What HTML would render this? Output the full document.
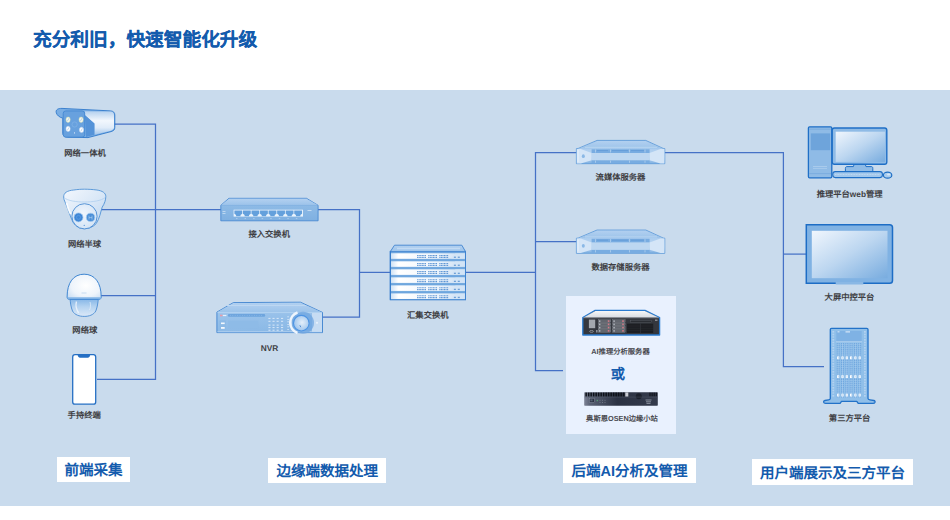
<!DOCTYPE html>
<html lang="zh-CN">
<head>
<meta charset="utf-8">
<style>
*{margin:0;padding:0;box-sizing:border-box}
html,body{width:950px;height:520px;overflow:hidden;background:#fff;font-family:"Liberation Sans",sans-serif;text-rendering:geometricPrecision}
#title{position:absolute;left:33px;top:28px;font-size:18.7px;font-weight:bold;color:#135bad;-webkit-text-stroke:0.15px #135bad;white-space:nowrap;line-height:24px}
#panel{position:absolute;left:0;top:89.5px;width:950px;height:416.5px;background:#c9dbed}
.lb{position:absolute;width:120px;text-align:center;font-size:8.3px;font-weight:bold;color:#3f3f44;white-space:nowrap;line-height:10px}
.sm{font-size:7.3px;color:#4a4a50}
.bx{position:absolute;background:#fff;color:#135bad;font-weight:bold;font-size:14.5px;line-height:29px;text-align:center;white-space:nowrap}
.ai{position:absolute;left:566px;top:295.5px;width:110px;height:138px;background:#e9f1fe}
#or{position:absolute;left:603px;top:364.5px;width:30px;text-align:center;font-size:14.3px;font-weight:bold;color:#135bad;line-height:20px}
svg{position:absolute;left:0;top:0}
</style>
</head>
<body>
<div id="title">充分利旧，快速智能化升级</div>
<div id="panel"></div>
<div class="ai"></div>
<svg width="950" height="520">
<defs>
<linearGradient id="gBR" x1="0" y1="0" x2="0" y2="1"><stop offset="0" stop-color="#b5d1ef"/><stop offset="0.4" stop-color="#f2f7fd"/><stop offset="0.7" stop-color="#e0ecf9"/><stop offset="1" stop-color="#a3c6eb"/></linearGradient>
<linearGradient id="gFace" x1="0" y1="0" x2="0" y2="1"><stop offset="0" stop-color="#609cdc"/><stop offset="1" stop-color="#4c8dd5"/></linearGradient>
<linearGradient id="gShell" x1="0" y1="0" x2="1" y2="1"><stop offset="0" stop-color="#f3f7fd"/><stop offset="0.5" stop-color="#dae8f7"/><stop offset="1" stop-color="#b9d3ef"/></linearGradient>
<radialGradient id="gBall" cx="0.45" cy="0.4" r="0.75"><stop offset="0" stop-color="#f1f6fd"/><stop offset="1" stop-color="#cde0f4"/></radialGradient>
<radialGradient id="gPtzT" cx="0.55" cy="0.45" r="0.7"><stop offset="0" stop-color="#ffffff"/><stop offset="0.6" stop-color="#eef4fb"/><stop offset="1" stop-color="#c8ddf3"/></radialGradient>
<linearGradient id="gPtzB" x1="0" y1="0" x2="0" y2="1"><stop offset="0" stop-color="#82b4e6"/><stop offset="0.45" stop-color="#b3d2f0"/><stop offset="1" stop-color="#dce9f8"/></linearGradient>
<linearGradient id="gSwF" x1="0" y1="0" x2="0" y2="1"><stop offset="0" stop-color="#94bfe8"/><stop offset="1" stop-color="#7fb0e1"/></linearGradient>
<linearGradient id="gTop" x1="0" y1="0" x2="0" y2="1"><stop offset="0" stop-color="#b2d0f0"/><stop offset="1" stop-color="#9cc3ea"/></linearGradient>
<linearGradient id="gNvr" x1="0" y1="0" x2="0.3" y2="1"><stop offset="0" stop-color="#a4c9ee"/><stop offset="1" stop-color="#8bb9e6"/></linearGradient>
<linearGradient id="gUnit" x1="0" y1="0" x2="1" y2="0"><stop offset="0" stop-color="#cfe2f5"/><stop offset="0.1" stop-color="#ffffff"/><stop offset="0.6" stop-color="#eef5fc"/><stop offset="1" stop-color="#c9def3"/></linearGradient>
<linearGradient id="gSrvF" x1="0" y1="0" x2="0" y2="1"><stop offset="0" stop-color="#7fb0e2"/><stop offset="0.3" stop-color="#a9cbee"/><stop offset="0.7" stop-color="#b9d5f1"/><stop offset="1" stop-color="#7fb0e2"/></linearGradient>
<linearGradient id="gScr" x1="0" y1="0" x2="1" y2="1"><stop offset="0" stop-color="#f0f6fd"/><stop offset="0.5" stop-color="#bcd6f0"/><stop offset="1" stop-color="#78acdf"/></linearGradient>
<linearGradient id="gHpTop" x1="0" y1="0" x2="0" y2="1"><stop offset="0" stop-color="#f6f7f8"/><stop offset="1" stop-color="#d8dce2"/></linearGradient>
<linearGradient id="gOsen" x1="0" y1="0" x2="1" y2="0"><stop offset="0" stop-color="#7d8395"/><stop offset="0.08" stop-color="#5a6174"/><stop offset="0.45" stop-color="#2b3243"/><stop offset="1" stop-color="#343b4c"/></linearGradient>
<radialGradient id="gKnob" cx="0.55" cy="0.45" r="0.7"><stop offset="0" stop-color="#e4effa"/><stop offset="0.7" stop-color="#a6c9ee"/><stop offset="1" stop-color="#7fb2e6"/></radialGradient>
</defs>
<g stroke="#4571c6" stroke-width="1.25" fill="none">
<path d="M113 124H155.5V379.3H97"/>
<path d="M101 295.6H155.5"/>
<path d="M101 209.7H222"/>
<path d="M317 209.7H359.5V317.2H321"/>
<path d="M359.5 272.4H391"/>
<path d="M466 272.4H535.5"/>
<path d="M577 152.5H535.5V370.6H563"/>
<path d="M535.5 241.6H577"/>
<path d="M664 152.5H783.4V366.6H824"/>
<path d="M783.4 254.1H806"/>
</g>
<g>
<path d="M56.3,112.8 C55.4,109.8 57.8,108.3 62,108.4 L110.6,110.9 C113.4,111.1 114.8,112.6 114.8,115 L114.8,127.4 C114.8,129.7 113.6,130.8 111,131.6 L88,137.6 L67.5,137.2 C64.4,137 62.8,135.6 62.8,133 L62.8,118.2 C59.2,117.2 57,115.2 56.3,112.8Z" fill="#7aaee4" stroke="#2f78cb" stroke-width="0.9"/>
<path d="M80.5,111.3 L110.4,111.6 C112.8,111.8 114,113.1 114,115.1 L114,127.3 C114,129.1 113,129.9 110.8,130.7 L94.4,134.7 L94.4,123.4 Z" fill="url(#gBR)"/>
<path d="M80.5,111.3 L94.4,123.4 L94.4,134.7 L86,137 L84.7,111.5Z" fill="#5593d8"/>
<rect x="63.2" y="110.9" width="21.5" height="26.3" rx="2.6" fill="#68a1de" stroke="#3f84cf" stroke-width="0.8"/>
<g fill="#f6f8ef" stroke="#d2dca8" stroke-width="0.5">
<ellipse cx="68.1" cy="119.7" rx="2.1" ry="2.7"/><ellipse cx="81.1" cy="119.7" rx="2.1" ry="2.7"/>
</g>
<g fill="#ffffff" stroke="#c8daf0" stroke-width="0.5">
<ellipse cx="68.1" cy="128.9" rx="2.1" ry="2.7"/><ellipse cx="81.5" cy="129.9" rx="2.1" ry="2.7"/>
</g>
<g fill="none" stroke="#7ea9d8" stroke-width="0.5">
<path d="M67.4,121.2 L68.9,118.3"/><path d="M80.4,121.2 L81.9,118.3"/><path d="M67.4,130.4 L68.9,127.5"/><path d="M80.8,131.4 L82.3,128.5"/>
</g>
<circle cx="74.6" cy="124.5" r="2.6" fill="none" stroke="#8ab8e8" stroke-width="0.5"/>
<rect x="74.2" y="132.2" width="0.8" height="1.4" fill="#dbe9f8"/>
</g>
<g>
<path d="M63.7,197 C63.5,193 67,190.6 73.8,190 C78,189.4 81,189.2 84.5,189.2 C88,189.2 92,189.4 96.9,190 C102.5,190.8 105.8,193 105.8,196.5 C105.8,200 104.6,203.5 102.2,207.2 C100.6,212 99.6,218.5 96.2,223.6 C93,227 89,228.7 84.5,228.7 C80,228.7 76.3,227 73,222.2 C70.4,217 68.6,210.5 65.3,202.6 C64.3,200.5 63.7,199 63.7,197Z" fill="url(#gShell)" stroke="#4f92d6" stroke-width="0.9"/>
<path d="M64.2,197.8 C68,200.8 76,202 84.5,202 C93,202 101,200.8 105.3,197.5" fill="none" stroke="#a9cbee" stroke-width="0.7"/>
<path d="M66.5,203 C67.5,207 69,211 70.5,214" stroke="#ffffff" stroke-width="1.6" fill="none" opacity="0.9"/>
<circle cx="84.5" cy="216.3" r="12.6" fill="url(#gBall)" stroke="#4a8bd3" stroke-width="0.9"/>
<circle cx="78.5" cy="217.4" r="4.5" fill="#3f87d7" stroke="#a3c8ee" stroke-width="0.7"/>
<circle cx="78.5" cy="217.4" r="2" fill="none" stroke="#6aa6e6" stroke-width="0.5"/>
<rect x="86.4" y="213.2" width="8.3" height="8.3" rx="4.1" fill="#4a8fd8" stroke="#a3c8ee" stroke-width="0.7"/>
<path d="M89,215.6 v4 M92,215.6 v4 M89,217.6 h3" stroke="#b4d3f2" stroke-width="0.6" fill="none"/>
<circle cx="84.2" cy="225.3" r="0.6" fill="#3f86d6"/>
</g>
<g>
<path d="M70,298.5 L98.4,298.5 C97.9,303 97.4,307 95.8,311 C93.5,315 89,316.4 84.2,316.4 C79.4,316.4 74.8,315 72.5,311 C70.9,307 70.4,303 70,298.5Z" fill="url(#gPtzB)" stroke="#4a8bd3" stroke-width="0.9"/>
<path d="M76.5,301.5 C75.5,305 76.3,309.5 78.6,312.8" stroke="#eef5fc" stroke-width="1.4" fill="none" opacity="0.85"/>
<path d="M90,302 C91,305 90.5,308 89.5,310" stroke="#e3eefa" stroke-width="1" fill="none" opacity="0.7"/>
<path d="M67.1,297 C67.1,282.5 73.5,274.2 84.1,274.2 C94.7,274.2 101.2,282.5 101.2,297 C101.2,298.6 100.4,299.4 98.8,299.4 L69.5,299.4 C67.9,299.4 67.1,298.6 67.1,297Z" fill="url(#gPtzT)" stroke="#3f86d2" stroke-width="1"/>
<rect x="67.6" y="297.3" width="33.1" height="1.7" fill="#7fb2e6"/>
<rect x="81.5" y="292.6" width="5" height="0.8" fill="#bcd4ee"/>
</g>
<g>
<rect x="72.7" y="354.7" width="23" height="49.5" rx="2.3" fill="#fff" stroke="#256fc4" stroke-width="1.3"/>
<path d="M77.6,355 L90.2,355 C89.8,357 89,357.7 87.8,357.7 L80,357.7 C78.8,357.7 78,357 77.6,355Z" fill="#256fc4"/>
</g>
<g>
<path d="M220.8,205.3 L228.9,198.3 L306.5,198.3 L318.1,205.3 L318.1,220.8 L220.8,220.8 Z" fill="url(#gSwF)" stroke="#3f83cf" stroke-width="0.8" stroke-linejoin="round"/>
<path d="M221.3,205.1 L229.1,198.8 L306.3,198.8 L317.6,205.1 Z" fill="url(#gTop)"/>
<path d="M221.2,205.4 H317.7" stroke="#7eafe0" stroke-width="0.6"/>
<rect x="233.6" y="209.7" width="69.4" height="6.9" fill="#eaf3fc"/>
<g fill="#64a0dc"><path d="M234.40,210.4 h7.8 v3.3 l-1.7,1.4 v1.2 h-4.4 v-1.2 l-1.7,-1.4Z"/><path d="M242.95,210.4 h7.8 v3.3 l-1.7,1.4 v1.2 h-4.4 v-1.2 l-1.7,-1.4Z"/><path d="M251.50,210.4 h7.8 v3.3 l-1.7,1.4 v1.2 h-4.4 v-1.2 l-1.7,-1.4Z"/><path d="M260.05,210.4 h7.8 v3.3 l-1.7,1.4 v1.2 h-4.4 v-1.2 l-1.7,-1.4Z"/><path d="M268.60,210.4 h7.8 v3.3 l-1.7,1.4 v1.2 h-4.4 v-1.2 l-1.7,-1.4Z"/><path d="M277.15,210.4 h7.8 v3.3 l-1.7,1.4 v1.2 h-4.4 v-1.2 l-1.7,-1.4Z"/><path d="M285.70,210.4 h7.8 v3.3 l-1.7,1.4 v1.2 h-4.4 v-1.2 l-1.7,-1.4Z"/><path d="M294.25,210.4 h7.8 v3.3 l-1.7,1.4 v1.2 h-4.4 v-1.2 l-1.7,-1.4Z"/></g>
<rect x="307.5" y="210" width="4" height="0.8" fill="#d4e5f6"/>
<rect x="222.5" y="211" width="3" height="0.7" fill="#d4e5f6"/><rect x="222.5" y="213" width="3" height="0.7" fill="#d4e5f6"/>
<path d="M236,218.6 H300" stroke="#d4e5f6" stroke-width="0.5" stroke-dasharray="1.5 7.05"/>
</g>
<g>
<path d="M216.9,312.1 L233.4,302.6 L300.5,302.2 L322.5,312.4 L322.5,332.6 L216.9,332.6 Z" fill="url(#gNvr)" stroke="#3f83cf" stroke-width="0.9" stroke-linejoin="round"/>
<path d="M217.5,311.9 L233.6,303.1 L300.3,302.7 L321.8,312.2 Z" fill="url(#gTop)"/>
<path d="M226,305.5 H306" stroke="#bdd7f2" stroke-width="1.2"/>
<path d="M217.4,312.6 H322" stroke="#b9d5f1" stroke-width="0.8"/>
<path d="M217.4,331.8 H322" stroke="#b4d2f0" stroke-width="1"/>
<rect x="220" y="314.7" width="2.6" height="1.6" fill="#e89aa8"/>
<rect x="222.8" y="314.9" width="3.6" height="1.2" fill="#e6f0fb"/>
<rect x="227.9" y="314" width="37.3" height="2.8" rx="1.2" fill="#6ea5de"/>
<path d="M230,315.4 H263" stroke="#a9ccef" stroke-width="0.5" stroke-dasharray="0.8 1.6"/>
<rect x="219.4" y="320.3" width="6.6" height="10.1" rx="0.8" fill="#8dbae6"/>
<rect x="228.2" y="320.6" width="30" height="7.6" fill="#8ebbe7"/>
<rect x="221" y="322.5" width="3.7" height="1.6" fill="#f4f8fd"/>
<rect x="221" y="327" width="3.7" height="1.8" fill="#f4f8fd"/>
<rect x="268.4" y="317.9" width="2.1" height="1" fill="#d9e8f8"/><rect x="272.5" y="317.9" width="2.1" height="1" fill="#d9e8f8"/><rect x="276.6" y="317.9" width="2.1" height="1" fill="#d9e8f8"/><rect x="281.0" y="317.9" width="2.1" height="1" fill="#d9e8f8"/><rect x="268.4" y="320.8" width="2.1" height="1" fill="#d9e8f8"/><rect x="272.5" y="320.8" width="2.1" height="1" fill="#d9e8f8"/><rect x="276.6" y="320.8" width="2.1" height="1" fill="#d9e8f8"/><rect x="281.0" y="320.8" width="2.1" height="1" fill="#d9e8f8"/><rect x="268.4" y="324.6" width="2.1" height="1" fill="#d9e8f8"/><rect x="272.5" y="324.6" width="2.1" height="1" fill="#d9e8f8"/><rect x="276.6" y="324.6" width="2.1" height="1" fill="#d9e8f8"/><rect x="281.0" y="324.6" width="2.1" height="1" fill="#d9e8f8"/><rect x="268.4" y="327.1" width="2.1" height="1" fill="#d9e8f8"/><rect x="272.5" y="327.1" width="2.1" height="1" fill="#d9e8f8"/><rect x="276.6" y="327.1" width="2.1" height="1" fill="#d9e8f8"/><rect x="281.0" y="327.1" width="2.1" height="1" fill="#d9e8f8"/><rect x="268.4" y="329.7" width="2.1" height="1" fill="#d9e8f8"/><rect x="272.5" y="329.7" width="2.1" height="1" fill="#d9e8f8"/><rect x="276.6" y="329.7" width="2.1" height="1" fill="#d9e8f8"/><rect x="281.0" y="329.7" width="2.1" height="1" fill="#d9e8f8"/><rect x="287.3" y="316.5" width="1.6" height="0.7" fill="#e6f0fb"/><rect x="287.3" y="319" width="1.6" height="0.7" fill="#e6f0fb"/><rect x="287.3" y="321.5" width="1.6" height="0.7" fill="#e6f0fb"/><rect x="287.3" y="324" width="1.6" height="0.7" fill="#e6f0fb"/><rect x="287.3" y="326.5" width="1.6" height="0.7" fill="#e6f0fb"/><rect x="287.3" y="329" width="1.6" height="0.7" fill="#e6f0fb"/>
<rect x="312" y="312.9" width="10" height="19" fill="#c6dcf3"/>
<circle cx="303" cy="322.8" r="11" fill="#6fa6e0" opacity="0.75"/>
<path d="M297.5,312.6 A10.8,10.8 0 0 0 297.5,333" stroke="#eef5fd" stroke-width="2.6" fill="none"/>
<circle cx="301.3" cy="323.2" r="7.8" fill="url(#gKnob)" stroke="#4d94e3" stroke-width="1.1"/>
<path d="M299.8,325.2 L300.8,327.2" stroke="#3d7fcc" stroke-width="0.8"/>
<circle cx="317" cy="322.8" r="1.1" fill="#e6f0fb"/>
</g>
<g>
<rect x="390.3" y="251.4" width="75.2" height="48.4" fill="#7fb2e3" stroke="#3f83cf" stroke-width="1"/>
<path d="M390.3,251.6 L394.5,245.2 L461.8,245.2 L465.5,251.6 Z" fill="url(#gTop)" stroke="#3f83cf" stroke-width="0.9" stroke-linejoin="round"/>
<path d="M397,248.5 H460" stroke="#c2daf3" stroke-width="1.6"/>
<rect x="390.9" y="253.30" width="74" height="5.5" fill="url(#gUnit)"/><path d="M390.9,252.00 H464.9" stroke="#5e9ad9" stroke-width="0.8"/><path d="M417.1,255.60 h9.3 M417.1,257.50 h9.3" stroke="#5f96d4" stroke-width="1.1" stroke-dasharray="1.1 0.45"/><path d="M428.2,255.60 h9.3 M428.2,257.50 h9.3" stroke="#5f96d4" stroke-width="1.1" stroke-dasharray="1.1 0.45"/><path d="M439.3,255.60 h9.3 M439.3,257.50 h9.3" stroke="#5f96d4" stroke-width="1.1" stroke-dasharray="1.1 0.45"/><path d="M451,258.80 L455.5,253.30 H464.9 V258.80Z" fill="#d3e5f6" opacity="0.8"/><rect x="453.9" y="256.60" width="2" height="1.3" fill="#6d9fd6"/><rect x="457.8" y="256.60" width="2" height="1.3" fill="#6d9fd6"/><rect x="390.9" y="261.33" width="74" height="5.5" fill="url(#gUnit)"/><path d="M390.9,260.03 H464.9" stroke="#5e9ad9" stroke-width="0.8"/><path d="M417.1,263.63 h9.3 M417.1,265.53 h9.3" stroke="#5f96d4" stroke-width="1.1" stroke-dasharray="1.1 0.45"/><path d="M428.2,263.63 h9.3 M428.2,265.53 h9.3" stroke="#5f96d4" stroke-width="1.1" stroke-dasharray="1.1 0.45"/><path d="M439.3,263.63 h9.3 M439.3,265.53 h9.3" stroke="#5f96d4" stroke-width="1.1" stroke-dasharray="1.1 0.45"/><path d="M451,266.83 L455.5,261.33 H464.9 V266.83Z" fill="#d3e5f6" opacity="0.8"/><rect x="453.9" y="264.63" width="2" height="1.3" fill="#6d9fd6"/><rect x="457.8" y="264.63" width="2" height="1.3" fill="#6d9fd6"/><rect x="390.9" y="269.37" width="74" height="5.5" fill="url(#gUnit)"/><path d="M390.9,268.07 H464.9" stroke="#5e9ad9" stroke-width="0.8"/><path d="M417.1,271.67 h9.3 M417.1,273.57 h9.3" stroke="#5f96d4" stroke-width="1.1" stroke-dasharray="1.1 0.45"/><path d="M428.2,271.67 h9.3 M428.2,273.57 h9.3" stroke="#5f96d4" stroke-width="1.1" stroke-dasharray="1.1 0.45"/><path d="M439.3,271.67 h9.3 M439.3,273.57 h9.3" stroke="#5f96d4" stroke-width="1.1" stroke-dasharray="1.1 0.45"/><path d="M451,274.87 L455.5,269.37 H464.9 V274.87Z" fill="#d3e5f6" opacity="0.8"/><rect x="453.9" y="272.67" width="2" height="1.3" fill="#6d9fd6"/><rect x="457.8" y="272.67" width="2" height="1.3" fill="#6d9fd6"/><rect x="390.9" y="277.40" width="74" height="5.5" fill="url(#gUnit)"/><path d="M390.9,276.10 H464.9" stroke="#5e9ad9" stroke-width="0.8"/><path d="M417.1,279.70 h9.3 M417.1,281.60 h9.3" stroke="#5f96d4" stroke-width="1.1" stroke-dasharray="1.1 0.45"/><path d="M428.2,279.70 h9.3 M428.2,281.60 h9.3" stroke="#5f96d4" stroke-width="1.1" stroke-dasharray="1.1 0.45"/><path d="M439.3,279.70 h9.3 M439.3,281.60 h9.3" stroke="#5f96d4" stroke-width="1.1" stroke-dasharray="1.1 0.45"/><path d="M451,282.90 L455.5,277.40 H464.9 V282.90Z" fill="#d3e5f6" opacity="0.8"/><rect x="453.9" y="280.70" width="2" height="1.3" fill="#6d9fd6"/><rect x="457.8" y="280.70" width="2" height="1.3" fill="#6d9fd6"/><rect x="390.9" y="285.43" width="74" height="5.5" fill="url(#gUnit)"/><path d="M390.9,284.13 H464.9" stroke="#5e9ad9" stroke-width="0.8"/><path d="M417.1,287.73 h9.3 M417.1,289.63 h9.3" stroke="#5f96d4" stroke-width="1.1" stroke-dasharray="1.1 0.45"/><path d="M428.2,287.73 h9.3 M428.2,289.63 h9.3" stroke="#5f96d4" stroke-width="1.1" stroke-dasharray="1.1 0.45"/><path d="M439.3,287.73 h9.3 M439.3,289.63 h9.3" stroke="#5f96d4" stroke-width="1.1" stroke-dasharray="1.1 0.45"/><path d="M451,290.93 L455.5,285.43 H464.9 V290.93Z" fill="#d3e5f6" opacity="0.8"/><rect x="453.9" y="288.73" width="2" height="1.3" fill="#6d9fd6"/><rect x="457.8" y="288.73" width="2" height="1.3" fill="#6d9fd6"/><rect x="390.9" y="293.47" width="74" height="5.5" fill="url(#gUnit)"/><path d="M390.9,292.17 H464.9" stroke="#5e9ad9" stroke-width="0.8"/><path d="M417.1,295.77 h9.3 M417.1,297.67 h9.3" stroke="#5f96d4" stroke-width="1.1" stroke-dasharray="1.1 0.45"/><path d="M428.2,295.77 h9.3 M428.2,297.67 h9.3" stroke="#5f96d4" stroke-width="1.1" stroke-dasharray="1.1 0.45"/><path d="M439.3,295.77 h9.3 M439.3,297.67 h9.3" stroke="#5f96d4" stroke-width="1.1" stroke-dasharray="1.1 0.45"/><path d="M451,298.97 L455.5,293.47 H464.9 V298.97Z" fill="#d3e5f6" opacity="0.8"/><rect x="453.9" y="296.77" width="2" height="1.3" fill="#6d9fd6"/><rect x="457.8" y="296.77" width="2" height="1.3" fill="#6d9fd6"/><path d="M390.3,251.4 V299.8" stroke="#2f78cb" stroke-width="1"/></g>
<g transform="translate(0,0)">
<path d="M576.4,148.6 L578.2,148.4 L597,140.4 L645.8,140.4 L663.2,148.4 L664.8,148.6 L664.8,163.7 L576.4,163.7Z" fill="url(#gSrvF)" stroke="#5b98d8" stroke-width="0.8" stroke-linejoin="round"/>
<path d="M579.5,148.5 L597.2,140.9 L645.6,140.9 L662,148.5Z" fill="url(#gTop)"/>
<path d="M585,147.3 H657" stroke="#b8d5f1" stroke-width="1"/>
<path d="M591.6,149.2 H649.6 V153 H591.6Z" fill="#78ace1"/>
<path d="M591.6,160.2 H649.6 V163.3 H591.6Z" fill="#78ace1"/>
<path d="M576.8,148.9 L580.8,148.9 L591.6,153 L591.6,160.2 L580.8,163.4 L576.8,163.4Z" fill="#d4e5f7"/>
<path d="M664.4,148.9 L660.4,148.9 L649.6,153 L649.6,160.2 L660.4,163.4 L664.4,163.4Z" fill="#d4e5f7"/>
<rect x="591.6" y="153" width="58" height="7.2" fill="#bdd7f1"/>
<path d="M595.5,149.5 V152.5 M610.5,149.5 V152.5 M629.5,149.5 V152.5 M645,149.5 V152.5 M595.5,160.6 V162.8 M610.5,160.6 V162.8 M629.5,160.6 V162.8 M645,160.6 V162.8" stroke="#c6ddf4" stroke-width="0.6"/>
<path d="M597,150.6 H608 M612,150.6 H628 M631,150.6 H644" stroke="#5d97d6" stroke-width="0.7"/>
<ellipse cx="583.3" cy="156.2" rx="1.5" ry="1.9" fill="#8ab8e6"/>
<path d="M578,150 V162" stroke="#eef5fc" stroke-width="0.8"/>
</g>
<g transform="translate(0,89.6)">
<path d="M576.4,148.6 L578.2,148.4 L597,140.4 L645.8,140.4 L663.2,148.4 L664.8,148.6 L664.8,163.7 L576.4,163.7Z" fill="url(#gSrvF)" stroke="#5b98d8" stroke-width="0.8" stroke-linejoin="round"/>
<path d="M579.5,148.5 L597.2,140.9 L645.6,140.9 L662,148.5Z" fill="url(#gTop)"/>
<path d="M585,147.3 H657" stroke="#b8d5f1" stroke-width="1"/>
<path d="M591.6,149.2 H649.6 V153 H591.6Z" fill="#78ace1"/>
<path d="M591.6,160.2 H649.6 V163.3 H591.6Z" fill="#78ace1"/>
<path d="M576.8,148.9 L580.8,148.9 L591.6,153 L591.6,160.2 L580.8,163.4 L576.8,163.4Z" fill="#d4e5f7"/>
<path d="M664.4,148.9 L660.4,148.9 L649.6,153 L649.6,160.2 L660.4,163.4 L664.4,163.4Z" fill="#d4e5f7"/>
<rect x="591.6" y="153" width="58" height="7.2" fill="#bdd7f1"/>
<path d="M595.5,149.5 V152.5 M610.5,149.5 V152.5 M629.5,149.5 V152.5 M645,149.5 V152.5 M595.5,160.6 V162.8 M610.5,160.6 V162.8 M629.5,160.6 V162.8 M645,160.6 V162.8" stroke="#c6ddf4" stroke-width="0.6"/>
<path d="M597,150.6 H608 M612,150.6 H628 M631,150.6 H644" stroke="#5d97d6" stroke-width="0.7"/>
<ellipse cx="583.3" cy="156.2" rx="1.5" ry="1.9" fill="#8ab8e6"/>
<path d="M578,150 V162" stroke="#eef5fc" stroke-width="0.8"/>
</g>
<g>
<path d="M582.8,317.6 L595.2,310.3 L645,310.3 L659.6,317.6 L659.6,335 L582.8,335Z" fill="#34373e" stroke="#2a7bd0" stroke-width="1.3" stroke-linejoin="round"/>
<path d="M583.6,317.4 L595.4,310.9 L644.8,310.9 L658.6,317.4Z" fill="url(#gHpTop)"/>
<path d="M583.4,317.8 H659" stroke="#8e939b" stroke-width="0.6"/>
<rect x="588.9" y="319.6" width="6.3" height="8.6" fill="#a3a7ae"/>
<ellipse cx="591.5" cy="331.4" rx="2" ry="0.9" fill="none" stroke="#c5c9cf" stroke-width="0.5"/>
<rect x="596" y="330" width="1.6" height="2.5" fill="#8a8e96"/>
<rect x="598.4" y="319.80" width="12.3" height="2.7" fill="#62666e" stroke="#9a9ea6" stroke-width="0.3"/><rect x="607.80" y="320.30" width="1.6" height="1.6" fill="#d27a88"/><rect x="599.00" y="320.40" width="1.4" height="1.5" fill="#b4b8c0"/><rect x="598.4" y="323.05" width="12.3" height="2.7" fill="#62666e" stroke="#9a9ea6" stroke-width="0.3"/><rect x="607.80" y="323.55" width="1.6" height="1.6" fill="#d27a88"/><rect x="599.00" y="323.65" width="1.4" height="1.5" fill="#b4b8c0"/><rect x="598.4" y="326.30" width="12.3" height="2.7" fill="#62666e" stroke="#9a9ea6" stroke-width="0.3"/><rect x="607.80" y="326.80" width="1.6" height="1.6" fill="#d27a88"/><rect x="599.00" y="326.90" width="1.4" height="1.5" fill="#b4b8c0"/><rect x="598.4" y="329.55" width="12.3" height="2.7" fill="#62666e" stroke="#9a9ea6" stroke-width="0.3"/><rect x="607.80" y="330.05" width="1.6" height="1.6" fill="#d27a88"/><rect x="599.00" y="330.15" width="1.4" height="1.5" fill="#b4b8c0"/><rect x="612.8" y="319.80" width="12.3" height="2.7" fill="#62666e" stroke="#9a9ea6" stroke-width="0.3"/><rect x="622.20" y="320.30" width="1.6" height="1.6" fill="#d27a88"/><rect x="613.40" y="320.40" width="1.4" height="1.5" fill="#b4b8c0"/><rect x="612.8" y="323.05" width="12.3" height="2.7" fill="#62666e" stroke="#9a9ea6" stroke-width="0.3"/><rect x="622.20" y="323.55" width="1.6" height="1.6" fill="#d27a88"/><rect x="613.40" y="323.65" width="1.4" height="1.5" fill="#b4b8c0"/><rect x="612.8" y="326.30" width="12.3" height="2.7" fill="#62666e" stroke="#9a9ea6" stroke-width="0.3"/><rect x="622.20" y="326.80" width="1.6" height="1.6" fill="#d27a88"/><rect x="613.40" y="326.90" width="1.4" height="1.5" fill="#b4b8c0"/><rect x="612.8" y="329.55" width="12.3" height="2.7" fill="#62666e" stroke="#9a9ea6" stroke-width="0.3"/><rect x="622.20" y="330.05" width="1.6" height="1.6" fill="#d27a88"/><rect x="613.40" y="330.15" width="1.4" height="1.5" fill="#b4b8c0"/>
<rect x="630.5" y="320.2" width="20.8" height="2.4" fill="#2a2d33" stroke="#6f737b" stroke-width="0.3"/>
<rect x="627" y="323.7" width="13.3" height="9.3" fill="#1d1f23"/>
<rect x="641" y="323.7" width="12.2" height="9.3" fill="#1d1f23"/>
<path d="M627,326 H653 M627,328.3 H653 M627,330.6 H653" stroke="#2e3136" stroke-width="0.4"/>
<rect x="655" y="319.5" width="2.5" height="1.5" fill="#8a8e96"/>
</g>
<g>
<rect x="584.2" y="392.2" width="73.6" height="13.5" rx="0.6" fill="url(#gOsen)"/>
<rect x="585.40" y="392.6" width="1.5" height="3.9" fill="#0d1118"/><rect x="587.90" y="392.6" width="1.5" height="3.9" fill="#0d1118"/><rect x="590.40" y="392.6" width="1.5" height="3.9" fill="#0d1118"/><rect x="592.90" y="392.6" width="1.5" height="3.9" fill="#0d1118"/><rect x="595.40" y="392.6" width="1.5" height="3.9" fill="#0d1118"/><rect x="597.90" y="392.6" width="1.5" height="3.9" fill="#0d1118"/><rect x="600.40" y="392.6" width="1.5" height="3.9" fill="#0d1118"/><rect x="602.90" y="392.6" width="1.5" height="3.9" fill="#0d1118"/><rect x="605.40" y="392.6" width="1.5" height="3.9" fill="#0d1118"/><rect x="607.90" y="392.6" width="1.5" height="3.9" fill="#0d1118"/><rect x="610.40" y="392.6" width="1.5" height="3.9" fill="#0d1118"/><rect x="612.90" y="392.6" width="1.5" height="3.9" fill="#0d1118"/><rect x="615.40" y="392.6" width="1.5" height="3.9" fill="#0d1118"/><rect x="617.90" y="392.6" width="1.5" height="3.9" fill="#0d1118"/><rect x="620.40" y="392.6" width="1.5" height="3.9" fill="#0d1118"/><rect x="622.90" y="392.6" width="1.5" height="3.9" fill="#0d1118"/><rect x="649.40" y="392.7" width="1.2" height="3.6" fill="#0f131b"/><rect x="651.50" y="392.7" width="1.2" height="3.6" fill="#0f131b"/><rect x="653.60" y="392.7" width="1.2" height="3.6" fill="#0f131b"/><rect x="655.70" y="392.7" width="1.2" height="3.6" fill="#0f131b"/>
<rect x="625.3" y="392.4" width="3" height="4.2" fill="#c9ccd4"/>
<circle cx="638.8" cy="396.3" r="3" fill="#1b202c"/>
<path d="M584.6,397.1 H657.4" stroke="#59606f" stroke-width="0.4"/>
<rect x="589.4" y="398.2" width="5.3" height="4.4" fill="#2c3242" stroke="#8c93a3" stroke-width="0.5"/><rect x="590.4" y="399.3" width="2.2" height="2" fill="#556072"/>
<rect x="596.8" y="399.8" width="0.8" height="1.4" fill="#5cc87a"/>
<path d="M599.5,400.3 h1 m1.5,0 h1 m1.5,0 h1 M599.5,402.5 h1 m1.5,0 h1 m1.5,0 h1" stroke="#8b92a0" stroke-width="0.6"/>
<path d="M645.5,400 h6 M646,401.8 h5 M646.5,403.4 h4" stroke="#aeb4c0" stroke-width="0.7"/>
</g>
<g>
<rect x="808.4" y="126.8" width="23.4" height="51" rx="1.2" fill="#8fbbe6" stroke="#1f6fc6" stroke-width="1.3"/>
<rect x="810.8" y="133.4" width="19.4" height="16.8" fill="#6ea4db"/>
<path d="M809.2,129.2 H831" stroke="#6ea4db" stroke-width="0.6"/>
<line x1="813" y1="166.5" x2="827" y2="166.5" stroke="#c3dbf3" stroke-width="0.5"/>
<line x1="813" y1="168.4" x2="827" y2="168.4" stroke="#c3dbf3" stroke-width="0.5"/>
<path d="M809.2,173.6 H831" stroke="#6ea4db" stroke-width="0.6"/>
<path d="M854.2,164 L865.2,164 L866,166.6 L871.5,166.6 C872.5,166.6 872.8,167.5 872.8,168.5 L872.8,171.8 L845.4,171.8 L845.4,168.5 C845.4,167.5 845.8,166.6 846.8,166.6 L853.4,166.6Z" fill="#8fbbe6" stroke="#1f6fc6" stroke-width="1"/>
<rect x="832.2" y="128" width="54.6" height="36.3" rx="2.2" fill="#8fbbe6" stroke="#1f6fc6" stroke-width="1.4"/>
<rect x="835.7" y="131.7" width="49.3" height="30.2" fill="url(#gScr)"/>
<rect x="832.8" y="171.6" width="49.6" height="6" rx="2.5" fill="#a3c8ec" stroke="#1f6fc6" stroke-width="1.1"/>
<path d="M835,174.5 H880" stroke="#d8e8f8" stroke-width="0.5" stroke-dasharray="1 0.6"/>
<ellipse cx="887.6" cy="175.2" rx="4.2" ry="3" fill="#aacdee" stroke="#1e6fc5" stroke-width="1.2"/><ellipse cx="888.6" cy="174.6" rx="1.6" ry="1" fill="#d6e7f8"/>
</g>
<g>
<path d="M806.3,224.8 H889.7 Q892.5,224.8 892.5,227.6 V280.4 Q892.5,283.2 889.7,283.2 H806.3Z" fill="#80b2e3" stroke="#1d6dc5" stroke-width="1.5"/>
<rect x="811.8" y="230.8" width="75.7" height="47.4" fill="url(#gScr)"/>
<rect x="835.7" y="282" width="27.6" height="2.5" fill="#8ab8e5"/>
</g>
<g>
<path d="M830.3,329.6 Q830.3,328.4 831.5,328.4 H866.8 Q868,328.4 868,329.6 V398.6 Q868,399.6 870,399.9 L873.8,400.5 Q875.4,400.9 875,402.2 Q874.6,403.3 873,403.3 H858.2 L856.8,401.3 H841.5 L840.1,403.3 H825.6 Q823.9,403.3 823.6,402.2 Q823.3,400.9 824.9,400.5 L828.6,399.9 Q830.3,399.6 830.3,398.6 Z" fill="#90bfe9" stroke="#2272c8" stroke-width="1.3" stroke-linejoin="round"/>
<rect x="836.3" y="331" width="25.4" height="10.5" fill="#7fb2e4"/>
<rect x="837.5" y="331.4" width="2" height="0.9" fill="#e8f1fb"/>
<rect x="845.5" y="331.4" width="4.5" height="1" fill="#e8f1fb"/>
<path d="M833.3,331 V397" stroke="#c0d9f3" stroke-width="1.8" stroke-dasharray="0.7 0.9"/><path d="M864.9,331 V397" stroke="#c0d9f3" stroke-width="1.8" stroke-dasharray="0.7 0.9"/><path d="M838.2,343 V398" stroke="#6ea6de" stroke-width="2.8" stroke-dasharray="1.2 0.7"/><path d="M838.2,343 V398" stroke="#b3d2f0" stroke-width="0.6"/><rect x="837.10" y="356.4" width="2.2" height="2.8" fill="#ffffff"/><rect x="838.10" y="356.79999999999995" width="0.5" height="2" fill="#9cc4ec"/><rect x="837.10" y="375.2" width="2.2" height="2.8" fill="#ffffff"/><rect x="838.10" y="375.59999999999997" width="0.5" height="2" fill="#9cc4ec"/><rect x="837.10" y="393.7" width="2.2" height="2.8" fill="#ffffff"/><rect x="838.10" y="394.09999999999997" width="0.5" height="2" fill="#9cc4ec"/><path d="M842.5,343 V398" stroke="#6ea6de" stroke-width="2.8" stroke-dasharray="1.2 0.7"/><path d="M842.5,343 V398" stroke="#b3d2f0" stroke-width="0.6"/><rect x="841.40" y="356.4" width="2.2" height="2.8" fill="#ffffff"/><rect x="842.40" y="356.79999999999995" width="0.5" height="2" fill="#9cc4ec"/><rect x="841.40" y="375.2" width="2.2" height="2.8" fill="#ffffff"/><rect x="842.40" y="375.59999999999997" width="0.5" height="2" fill="#9cc4ec"/><rect x="841.40" y="393.7" width="2.2" height="2.8" fill="#ffffff"/><rect x="842.40" y="394.09999999999997" width="0.5" height="2" fill="#9cc4ec"/><path d="M846.8000000000001,343 V398" stroke="#6ea6de" stroke-width="2.8" stroke-dasharray="1.2 0.7"/><path d="M846.8000000000001,343 V398" stroke="#b3d2f0" stroke-width="0.6"/><rect x="845.70" y="356.4" width="2.2" height="2.8" fill="#ffffff"/><rect x="846.70" y="356.79999999999995" width="0.5" height="2" fill="#9cc4ec"/><rect x="845.70" y="375.2" width="2.2" height="2.8" fill="#ffffff"/><rect x="846.70" y="375.59999999999997" width="0.5" height="2" fill="#9cc4ec"/><rect x="845.70" y="393.7" width="2.2" height="2.8" fill="#ffffff"/><rect x="846.70" y="394.09999999999997" width="0.5" height="2" fill="#9cc4ec"/><path d="M851.1,343 V398" stroke="#6ea6de" stroke-width="2.8" stroke-dasharray="1.2 0.7"/><path d="M851.1,343 V398" stroke="#b3d2f0" stroke-width="0.6"/><rect x="850.00" y="356.4" width="2.2" height="2.8" fill="#ffffff"/><rect x="851.00" y="356.79999999999995" width="0.5" height="2" fill="#9cc4ec"/><rect x="850.00" y="375.2" width="2.2" height="2.8" fill="#ffffff"/><rect x="851.00" y="375.59999999999997" width="0.5" height="2" fill="#9cc4ec"/><rect x="850.00" y="393.7" width="2.2" height="2.8" fill="#ffffff"/><rect x="851.00" y="394.09999999999997" width="0.5" height="2" fill="#9cc4ec"/><path d="M855.4000000000001,343 V398" stroke="#6ea6de" stroke-width="2.8" stroke-dasharray="1.2 0.7"/><path d="M855.4000000000001,343 V398" stroke="#b3d2f0" stroke-width="0.6"/><rect x="854.30" y="356.4" width="2.2" height="2.8" fill="#ffffff"/><rect x="855.30" y="356.79999999999995" width="0.5" height="2" fill="#9cc4ec"/><rect x="854.30" y="375.2" width="2.2" height="2.8" fill="#ffffff"/><rect x="855.30" y="375.59999999999997" width="0.5" height="2" fill="#9cc4ec"/><rect x="854.30" y="393.7" width="2.2" height="2.8" fill="#ffffff"/><rect x="855.30" y="394.09999999999997" width="0.5" height="2" fill="#9cc4ec"/><path d="M859.7,343 V398" stroke="#6ea6de" stroke-width="2.8" stroke-dasharray="1.2 0.7"/><path d="M859.7,343 V398" stroke="#b3d2f0" stroke-width="0.6"/><rect x="858.60" y="356.4" width="2.2" height="2.8" fill="#ffffff"/><rect x="859.60" y="356.79999999999995" width="0.5" height="2" fill="#9cc4ec"/><rect x="858.60" y="375.2" width="2.2" height="2.8" fill="#ffffff"/><rect x="859.60" y="375.59999999999997" width="0.5" height="2" fill="#9cc4ec"/><rect x="858.60" y="393.7" width="2.2" height="2.8" fill="#ffffff"/><rect x="859.60" y="394.09999999999997" width="0.5" height="2" fill="#9cc4ec"/><path d="M836,341.8 H862" stroke="#cfe2f5" stroke-width="0.6"/></g>
</svg>

<div class="lb" style="left:25px;top:148px">网络一体机</div>
<div class="lb" style="left:24.5px;top:238.5px">网络半球</div>
<div class="lb" style="left:24.8px;top:324.5px">网络球</div>
<div class="lb" style="left:24.2px;top:410px">手持终端</div>
<div class="lb" style="left:209.2px;top:229px">接入交换机</div>
<div class="lb" style="left:209.6px;top:343px">NVR</div>
<div class="lb" style="left:367.8px;top:309.5px">汇集交换机</div>
<div class="lb" style="left:560.5px;top:172px">流媒体服务器</div>
<div class="lb" style="left:560.5px;top:261.5px">数据存储服务器</div>
<div class="lb sm" style="left:560.5px;top:347px">AI推理分析服务器</div>
<div id="or">或</div>
<div class="lb sm" style="left:562px;top:414px">奥斯恩OSEN边缘小站</div>
<div class="lb" style="left:789.6px;top:188.5px">推理平台web管理</div>
<div class="lb" style="left:789.5px;top:292px">大屏中控平台</div>
<div class="lb" style="left:789.6px;top:412.5px">第三方平台</div>

<div class="bx" style="left:56.6px;top:457px;width:73.8px;height:25px">前端采集</div>
<div class="bx" style="left:268.4px;top:457.8px;width:117.6px;height:25px">边缘端数据处理</div>
<div class="bx" style="left:563.2px;top:457.9px;width:132.8px;height:25px">后端AI分析及管理</div>
<div class="bx" style="left:752px;top:459px;width:160.8px;height:25.8px;line-height:31px">用户端展示及三方平台</div>
</body>
</html>
